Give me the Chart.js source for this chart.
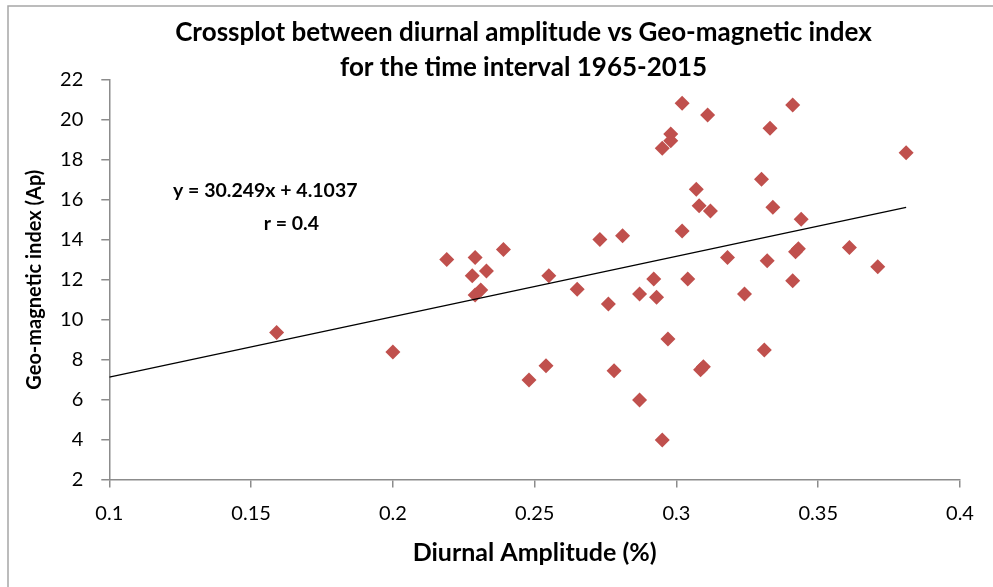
<!DOCTYPE html>
<html>
<head>
<meta charset="utf-8">
<script src="https://cdn.jsdelivr.net/npm/chart.js@4/dist/chart.umd.min.js"></script>
<style>
  html, body { margin: 0; padding: 0; background: #ffffff; }
  #wrap { position: relative; width: 993px; height: 587px; }
</style>
</head>
<body>
<div id="wrap"><canvas id="c" width="993" height="587"></canvas></div>
<script>
// ---- data ----
const diurnalAmplitude = [
  0.159, 0.200, 0.219, 0.229, 0.228, 0.233, 0.231, 0.229, 0.239, 0.248,
  0.254, 0.255, 0.265, 0.273, 0.276, 0.278, 0.281, 0.287, 0.287, 0.292,
  0.293, 0.295, 0.295, 0.297, 0.298, 0.298, 0.302, 0.302, 0.304, 0.307,
  0.308, 0.3085, 0.3095, 0.311, 0.312, 0.318, 0.324, 0.330, 0.331, 0.332,
  0.333, 0.334, 0.341, 0.341, 0.342, 0.343, 0.344, 0.361, 0.371, 0.381
];
const apIndex = [
  9.36, 8.38, 13.02, 13.12, 12.20, 12.44, 11.49, 11.24, 13.52, 6.98,
  7.70, 12.20, 11.52, 14.02, 10.79, 7.45, 14.20, 11.29, 5.98, 12.04,
  11.12, 18.58, 3.98, 9.03, 19.30, 18.96, 20.83, 14.44, 12.04, 16.53,
  15.71, 7.50, 7.65, 20.25, 15.44, 13.12, 11.29, 17.03, 8.48, 12.95,
  19.58, 15.63, 20.75, 11.95, 13.40, 13.55, 15.03, 13.62, 12.65, 18.36
];
const trendSlope = [30.249];
const trendIntercept = [4.1037];
const correlation = ['0.4'];
const titleLines = ['Crossplot between diurnal amplitude vs Geo-magnetic index', 'for the time interval 1965-2015'];
const xAxisTitle = 'Diurnal Amplitude (%)';
const yAxisTitle = 'Geo-magnetic index (Ap)';
const xTickRange = [0.1, 0.4, 0.05];
const yTickRange = [2, 22, 2];

// ---- derived datasets ----
const points = diurnalAmplitude.map((x, i) => ({ x: x, y: apIndex[i] }));
const trendX = [xTickRange[0], Math.max(...diurnalAmplitude)];
const trendPoints = trendX.map(x => ({ x: x, y: trendSlope[0] * x + trendIntercept[0] }));

const FONT = 'Lato, "Open Sans", "DejaVu Sans", sans-serif';
const AXIS_COLOR = '#8c8c8c';

// chart title + trendline label (text only)
const textPlugin = {
  id: 'texts',
  afterDraw(chart) {
    const ctx = chart.ctx;
    const a = chart.chartArea;
    ctx.save();
    ctx.fillStyle = '#000000';
    ctx.textAlign = 'center';
    ctx.textBaseline = 'alphabetic';
    // title
    ctx.font = 'bold 26px ' + FONT;
    const tx = 523.5;
    ctx.fillText(titleLines[0], tx, 41);
    ctx.fillText(titleLines[1], tx, 75.5);
    // equation label
    ctx.font = 'bold 19.5px ' + FONT;
    const eq = 'y = ' + trendSlope[0] + 'x + ' + trendIntercept[0];
    ctx.fillText(eq, a.left + 156, a.top + 117);
    ctx.fillText('r = ' + correlation[0], a.left + 182, a.top + 149.5);
    ctx.restore();
  }
};

const framePlugin = {
  id: 'frame',
  beforeDraw(chart) {
    const ctx = chart.ctx;
    ctx.save();
    ctx.fillStyle = '#ffffff';
    ctx.fillRect(0, 0, chart.width, chart.height);
    ctx.strokeStyle = '#a6a6a6';
    ctx.lineWidth = 1.5;
    ctx.beginPath();
    ctx.moveTo(8, chart.height);
    ctx.lineTo(8, 6);
    ctx.lineTo(chart.width, 6);
    ctx.stroke();
    ctx.restore();
  }
};

function fmt(v) { return String(Number(v.toFixed(2))); }

new Chart(document.getElementById('c'), {
  type: 'scatter',
  data: {
    datasets: [
      {
        label: 'Ap vs diurnal amplitude',
        data: points,
        pointStyle: 'rectRot',
        pointRadius: 7.5,
        pointHoverRadius: 7.5,
        backgroundColor: '#C0504D',
        borderColor: '#C0504D',
        borderWidth: 0,
        order: 2
      },
      {
        type: 'line',
        label: 'Linear trend',
        data: trendPoints,
        borderColor: '#000000',
        borderWidth: 1.3,
        pointRadius: 0,
        fill: false,
        order: 1
      }
    ]
  },
  options: {
    responsive: false,
    animation: false,
    devicePixelRatio: 1,
    layout: { padding: { left: 0, right: 33, top: 80, bottom: 0 } },
    plugins: {
      legend: { display: false },
      tooltip: { enabled: false },
      title: { display: false }
    },
    scales: {
      x: {
        type: 'linear',
        min: xTickRange[0],
        max: xTickRange[1],
        afterFit(scale) { scale.height = 107.5; },
        ticks: {
          stepSize: xTickRange[2],
          color: '#000000',
          font: { family: FONT, size: 20 },
          padding: 14,
          callback: (v) => fmt(v)
        },
        grid: { drawOnChartArea: false, drawTicks: true, tickLength: 8, color: AXIS_COLOR, lineWidth: 1.5 },
        border: { display: true, color: AXIS_COLOR, width: 1.5 },
        title: {
          display: true,
          text: xAxisTitle,
          color: '#000000',
          font: { family: FONT, size: 25, weight: 'bold', lineHeight: 1.2 },
          padding: { top: 0, bottom: 19 }
        }
      },
      y: {
        type: 'linear',
        min: yTickRange[0],
        max: yTickRange[1],
        afterFit(scale) { scale.width = 109.3; },
        ticks: {
          stepSize: yTickRange[2],
          color: '#000000',
          font: { family: FONT, size: 20 },
          padding: 18,
          callback: (v) => fmt(v)
        },
        grid: { drawOnChartArea: false, drawTicks: true, tickLength: 8, color: AXIS_COLOR, lineWidth: 1.5 },
        border: { display: true, color: AXIS_COLOR, width: 1.5 },
        title: {
          display: true,
          text: yAxisTitle,
          color: '#000000',
          font: { family: FONT, size: 20, weight: 'bold', lineHeight: 1.2 },
          padding: { top: 23, bottom: 0 }
        }
      }
    }
  },
  plugins: [framePlugin, textPlugin]
});
</script>
</body>
</html>
